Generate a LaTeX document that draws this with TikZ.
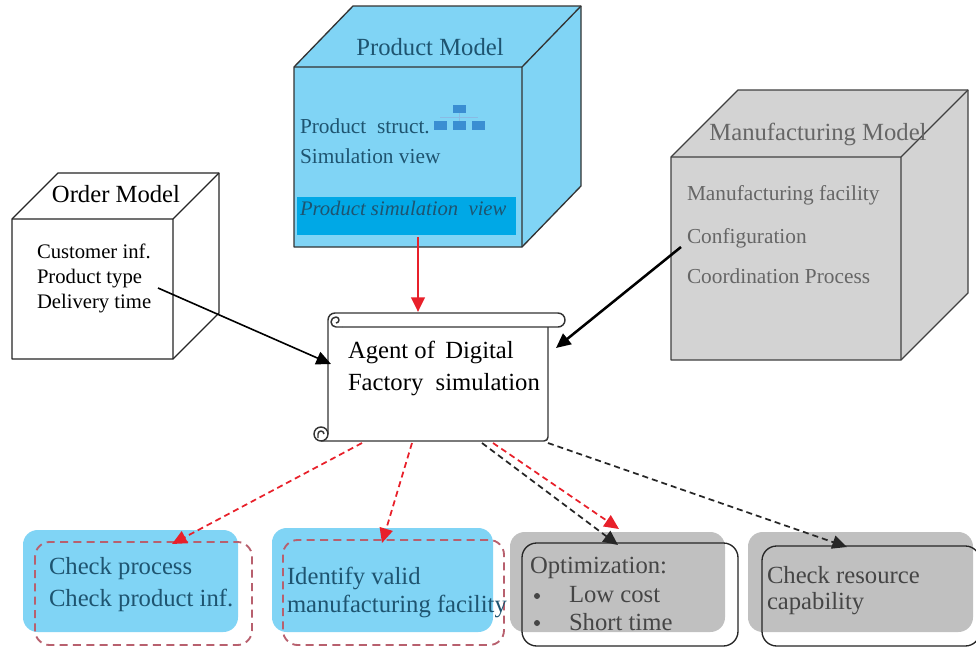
\documentclass[tikz,border=0pt]{standalone}
\usepackage{fontspec}
\setmainfont{Liberation Serif}
\usetikzlibrary{arrows.meta}
\definecolor{pblue}{HTML}{80D4F5}
\definecolor{pband}{HTML}{00A8E6}
\definecolor{ptext}{HTML}{1E5470}
\definecolor{iconblue}{HTML}{3A8ED2}
\definecolor{mgray}{HTML}{D3D3D3}
\definecolor{mtext}{HTML}{666666}
\definecolor{bgray}{HTML}{C0C0C0}
\definecolor{btext}{HTML}{454545}
\definecolor{dashrose}{HTML}{B8606E}
\definecolor{ared}{HTML}{E8202A}
\newcommand{\bigf}{\fontsize{18.5}{21}\selectfont}
\newcommand{\midf}{\fontsize{16}{19}\selectfont}
\newcommand{\smf}{\fontsize{15.5}{18}\selectfont}
\begin{document}
\begin{tikzpicture}[x=0.75pt,y=-0.75pt,
  txt/.style={anchor=base west,inner sep=0pt,outer sep=0pt},
  ctxt/.style={anchor=base,inner sep=0pt,outer sep=0pt},
  cubeline/.style={line width=1pt,line join=round},
  scrollline/.style={line width=1.1pt,line join=round,draw=black!80},
  dashbox/.style={draw=dashrose,dash pattern=on 6pt off 4pt,line width=1.4pt,rounded corners=11pt},
  outbox/.style={draw=black!85,line width=1pt,rounded corners=11pt},
  tip/.style={-{Triangle[length=11pt,width=10pt]}},
  redarrow/.style={tip,draw=ared,fill=ared,line width=2.2pt},
  blkarrow/.style={tip,draw=black,line width=1.2pt},
  reddash/.style={tip,draw=ared,line width=1.3pt,dash pattern=on 4.5pt off 3pt},
  blkdash/.style={tip,draw=black!85,line width=1.3pt,dash pattern=on 4.5pt off 3pt}]
\useasboundingbox (0,0) rectangle (976,647);
\clip (0,0) rectangle (976,647);
\fill[white] (0,0) rectangle (976,647);

% ---------- Product Model cube ----------
\filldraw[cubeline,fill=pblue,draw=black!80] (294,67) -- (353,6) -- (581,6) -- (581,186) -- (522,247) -- (294,247) -- cycle;
\draw[cubeline,draw=black!80] (294,67) -- (522,67) -- (581,6) (522,67) -- (522,247);
\fill[pband] (297,197) rectangle (516,235);
\node[ctxt,text=ptext] (pmtitle) at (430,55) {\bigf Product Model};
\node[txt,text=ptext] (pm1) at (300,133) {\midf Product\ \ struct.};
\node[txt,text=ptext] (pm2) at (300,163) {\midf Simulation view};
\node[txt,text=ptext] (pm3) at (300,215) {\smf\itshape Product simulation\ \ view};
\fill[iconblue] (453,105) rectangle (466,113);
\fill[iconblue] (434,121) rectangle (447,130);
\fill[iconblue] (453,121) rectangle (466,130);
\fill[iconblue] (472,121) rectangle (485,130);
\draw[iconblue!60,line width=0.4pt] (440,117) -- (478,117) (459,113) -- (459,121);

% ---------- Order Model cube ----------
\filldraw[cubeline,fill=white,draw=black!85] (12,219) -- (58,173) -- (219,173) -- (219,313) -- (173,359) -- (12,359) -- cycle;
\draw[cubeline,draw=black!85] (12,219) -- (173,219) -- (219,173) (173,219) -- (173,359);
\node[ctxt] (omtitle) at (116,202) {\bigf Order Model};
\node[txt] (om1) at (37,258) {\smf Customer inf.};
\node[txt] (om2) at (37,283) {\smf Product type};
\node[txt] (om3) at (37,308) {\smf Delivery time};

% ---------- Manufacturing Model cube ----------
\filldraw[cubeline,fill=mgray,draw=black!75] (671,157) -- (738,90) -- (968,90) -- (968,293) -- (901,360) -- (671,360) -- cycle;
\draw[cubeline,draw=black!75] (671,157) -- (901,157) -- (968,90) (901,157) -- (901,360);
\node[ctxt,text=mtext] (mmtitle) at (818,140) {\bigf Manufacturing Model};
\node[txt,text=mtext] (mm1) at (687,200) {\midf Manufacturing facility};
\node[txt,text=mtext] (mm2) at (687,243) {\midf Configuration};
\node[txt,text=mtext] (mm3) at (687,283) {\midf Coordination Process};

% ---------- Agent scroll ----------
\fill[white] (328,320) rectangle (548,441);
\draw[scrollline] (335,313) -- (558,313) arc[start angle=-90,end angle=90,radius=7] -- (342,327);
\draw[scrollline] (328,434) -- (328,320) arc[start angle=180,end angle=270,radius=7];
\draw[scrollline] (342,327) -- (336,327) arc[start angle=90,end angle=270,radius=5] arc[start angle=270,end angle=450,radius=3];
\draw[scrollline] (548,327) -- (548,437) arc[start angle=0,end angle=90,radius=4] -- (321,441);
\draw[scrollline] (321,434) circle[radius=7];
\draw[scrollline] (324,434) arc[start angle=0,end angle=-180,radius=3] -- (318,438);
\node[txt] (ag1) at (348,358) {\bigf Agent of\ \,Digital};
\node[txt] (ag2) at (348,390) {\bigf Factory\ \ simulation};

% ---------- bottom boxes ----------
\fill[pblue,rounded corners=11pt] (23,530) rectangle (238,632);
\draw[dashbox] (35,542) rectangle (252,645);
\node[txt,text=ptext] (b1a) at (49,574) {\bigf Check process};
\node[txt,text=ptext] (b1b) at (49,606) {\bigf Check product inf.};

\fill[pblue,rounded corners=11pt] (272,528) rectangle (493,632);
\draw[dashbox] (283,540) rectangle (504,645);
\node[txt,text=ptext] (b2a) at (287,584) {\bigf Identify valid};
\node[txt,text=ptext] (b2b) at (287,612) {\bigf manufacturing facility};

\fill[bgray,rounded corners=11pt] (510,532) rectangle (725,632);
\draw[outbox] (522,543) rectangle (738,646);
\node[txt,text=btext] (b3a) at (530,573) {\bigf Optimization:};
\fill[btext] (537,596) circle[radius=3];
\fill[btext] (537,623) circle[radius=3];
\node[txt,text=btext] (b3b) at (569,602) {\bigf Low cost};
\node[txt,text=btext] (b3c) at (569,630) {\bigf Short time};

\fill[bgray,rounded corners=11pt] (748,532) rectangle (973,632);
\draw[outbox] (762,546) rectangle (980,646);
\node[txt,text=btext] (b4a) at (767,583) {\bigf Check resource};
\node[txt,text=btext] (b4b) at (767,609) {\bigf capability};

% ---------- connectors ----------
\coordinate (pmout) at (418,237);
\coordinate (agtop) at (418,312);
\coordinate (omout) at (158,288);
\coordinate (agleft) at (331,364);
\coordinate (mmout) at (681,247);
\coordinate (agright) at (556,348);
\coordinate (d1s) at (362,443);
\coordinate (d1e) at (172,544);
\coordinate (d2s) at (412,443);
\coordinate (d2e) at (382,543);
\coordinate (d3s) at (482,443);
\coordinate (d3e) at (618,545);
\coordinate (d4s) at (493,443);
\coordinate (d4e) at (619,529);
\coordinate (d5s) at (548,443);
\coordinate (d5e) at (847,547);

\draw[redarrow] (pmout) -- (agtop);
\draw[blkarrow] (omout) -- (agleft);
\draw[blkarrow,line width=1.9pt] (mmout) -- (agright);
\draw[reddash] (d1s) -- (d1e);
\draw[reddash] (d2s) -- (d2e);
\draw[blkdash] (d3s) -- (d3e);
\draw[reddash] (d4s) -- (d4e);
\draw[blkdash] (d5s) -- (d5e);
\end{tikzpicture}
\end{document}
